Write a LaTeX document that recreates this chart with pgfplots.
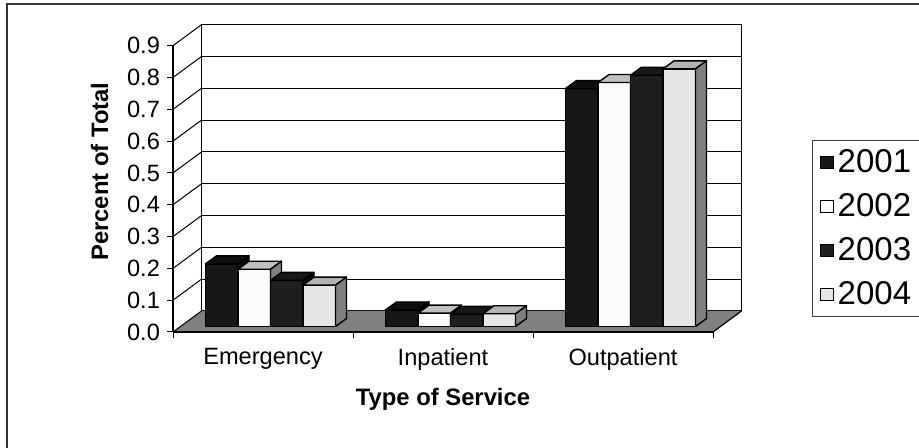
\documentclass[border=0pt]{standalone}
\usepackage{fontspec}
\setmainfont{Liberation Sans}
\usepackage{pgfplots}
\usepackage{pgfplotstable}
\pgfplotsset{compat=1.18}

\definecolor{f2001}{HTML}{171717}
\definecolor{t2001}{HTML}{0E0E0E}
\definecolor{s2001}{HTML}{080808}
\definecolor{f2002}{HTML}{FBFBFB}
\definecolor{t2002}{HTML}{C0C0C0}
\definecolor{s2002}{HTML}{808080}
\definecolor{f2003}{HTML}{1E1E1E}
\definecolor{t2003}{HTML}{171717}
\definecolor{s2003}{HTML}{0A0A0A}
\definecolor{f2004}{HTML}{E6E6E6}
\definecolor{t2004}{HTML}{B3B3B3}
\definecolor{s2004}{HTML}{7F7F7F}
\definecolor{floorc}{HTML}{808080}

\pgfplotstableread{
x y2001 y2002 y2003 y2004
0 0.197 0.180 0.145 0.130
1 0.052 0.042 0.038 0.040
2 0.748 0.767 0.790 0.810
}\data

% 3D bar (front, top and side faces), drawn as a mark at the bar top
\newcommand\declbox[5]{%
  \pgfdeclareplotmark{#1}{%
    \pgfmathsetmacro\hh{\rawyv*159.06}%
    \pgfmathsetmacro\lx{#2-8.125}%
    \pgfmathsetmacro\rx{#2+8.125}%
    \pgfmathsetmacro\lxd{#2-8.125+5.5}%
    \pgfmathsetmacro\rxd{#2+8.125+5.5}%
    \pgfmathsetmacro\hhd{-\hh+4}%
    \pgfmathsetmacro\hhm{-\hh}%
    \pgfsetlinewidth{0.7pt}%
    \pgfsetstrokecolor{black}%
    \pgfsetroundjoin
    \pgfsetfillcolor{#3}%
    \pgfpathmoveto{\pgfqpoint{\lx pt}{0pt}}%
    \pgfpathlineto{\pgfqpoint{\rx pt}{0pt}}%
    \pgfpathlineto{\pgfqpoint{\rx pt}{\hhm pt}}%
    \pgfpathlineto{\pgfqpoint{\lx pt}{\hhm pt}}%
    \pgfpathclose
    \pgfusepathqfillstroke
    \pgfsetfillcolor{#4}%
    \pgfpathmoveto{\pgfqpoint{\lx pt}{0pt}}%
    \pgfpathlineto{\pgfqpoint{\rx pt}{0pt}}%
    \pgfpathlineto{\pgfqpoint{\rxd pt}{4pt}}%
    \pgfpathlineto{\pgfqpoint{\lxd pt}{4pt}}%
    \pgfpathclose
    \pgfusepathqfillstroke
    \pgfsetfillcolor{#5}%
    \pgfpathmoveto{\pgfqpoint{\rx pt}{0pt}}%
    \pgfpathlineto{\pgfqpoint{\rx pt}{\hhm pt}}%
    \pgfpathlineto{\pgfqpoint{\rxd pt}{\hhd pt}}%
    \pgfpathlineto{\pgfqpoint{\rxd pt}{4pt}}%
    \pgfpathclose
    \pgfusepathqfillstroke
  }}
\declbox{box2001}{-24.375}{f2001}{t2001}{s2001}
\declbox{box2002}{-8.125}{f2002}{t2002}{s2002}
\declbox{box2003}{8.125}{f2003}{t2003}{s2003}
\declbox{box2004}{24.375}{f2004}{t2004}{s2004}

\begin{document}
\begin{tikzpicture}
\useasboundingbox (0,0) rectangle (459.5pt,224pt);
\clip (0,0) rectangle (459.5pt,224pt);
\fill[white] (0,0) rectangle (459.5pt,224pt);
% outer frame
\draw[black!80, line width=0.6pt] (3.5pt,-10pt) rectangle (480pt,222pt);

% back wall
\begin{axis}[
  at={(100.75pt,68.5pt)}, anchor=south west,
  scale only axis, width=270pt, height=143.15pt,
  xmin=-0.5, xmax=2.5, ymin=0, ymax=0.9,
  xtick=\empty, ytick={0,0.1,0.2,0.3,0.4,0.5,0.6,0.7,0.8,0.9},
  yticklabels={}, major tick length=0pt,
  ymajorgrids, grid style={black, line width=0.5pt},
  axis line style={black, line width=0.5pt},
]
\end{axis}

% floor and left wall lines
\fill[floorc] (86.5pt,58pt) -- (356.5pt,58pt) -- (370.75pt,68.5pt) -- (100.75pt,68.5pt) -- cycle;
\draw[black, line width=0.6pt] (86.5pt,58pt) -- (356.5pt,58pt) -- (370.75pt,68.5pt);
\foreach \k in {0,...,9}{
  \draw[black, line width=0.5pt] (86.5pt,{58pt+\k*15.906pt}) -- (100.75pt,{68.5pt+\k*15.906pt});
}

% front axis: ticks, labels
\begin{axis}[
  at={(86.5pt,58pt)}, anchor=south west,
  scale only axis, width=270pt, height=143.15pt,
  xmin=-0.5, xmax=2.5, ymin=0, ymax=0.9,
  axis x line*=bottom, axis y line*=left,
  axis line style={black, line width=0.6pt},
  tick align=outside, major tick length=3pt,
  tick style={black, line width=0.5pt},
  ytick={0,0.1,0.2,0.3,0.4,0.5,0.6,0.7,0.8,0.9},
  yticklabel={\pgfmathprintnumber[fixed,fixed zerofill,precision=1]{\tick}},
  /pgf/number format/assume math mode=true,
  xtick={-0.5,0.5,1.5,2.5}, xticklabels={},
  extra x ticks={0,1,2},
  extra x tick labels={Emergency,Inpatient,Outpatient},
  extra x tick style={major tick length=0pt, xticklabel style={yshift=-4.5pt}},
  ticklabel style={font=\fontsize{11.8}{13}\selectfont},
  ylabel={Percent of Total},
  ylabel style={at={(axis description cs:-0.1361,0.56)}, anchor=center, font=\fontsize{11.9}{13}\selectfont\bfseries},
  xlabel={Type of Service},
  xlabel style={at={(axis description cs:0.5,-0.234)}, anchor=center, font=\fontsize{11.9}{13}\selectfont\bfseries},
]
\end{axis}

% bars
\begin{axis}[
  at={(90.25pt,60.75pt)}, anchor=south west,
  scale only axis, width=270pt, height=143.15pt,
  xmin=-0.5, xmax=2.5, ymin=0, ymax=0.9,
  hide axis, clip=false,
  legend cell align=left,
  legend style={at={(1.1689,0.6507)}, anchor=north west,
    draw=black!75, line width=0.6pt, fill=white,
    font=\fontsize{16.5}{19}\selectfont,
    inner xsep=4pt, inner ysep=2.5pt, row sep=5.4pt,
    nodes={inner sep=1.8pt}},
  legend image code/.code={\draw[#1, line width=0.5pt] (0pt,-3.2pt) rectangle (6.4pt,3.2pt);},
]
\addplot[ybar, bar width=16.25pt, bar shift=-24.375pt, fill=f2001, draw=black, line width=0.7pt]
  table[x=x,y=y2001]{\data};
\addlegendentry{2001\hspace*{14pt}}
\addplot[ybar, bar width=16.25pt, bar shift=-8.125pt, fill=f2002, draw=black, line width=0.7pt]
  table[x=x,y=y2002]{\data};
\addlegendentry{2002\hspace*{14pt}}
\addplot[ybar, bar width=16.25pt, bar shift=8.125pt, fill=f2003, draw=black, line width=0.7pt]
  table[x=x,y=y2003]{\data};
\addlegendentry{2003\hspace*{14pt}}
\addplot[ybar, bar width=16.25pt, bar shift=24.375pt, fill=f2004, draw=black, line width=0.7pt]
  table[x=x,y=y2004]{\data};
\addlegendentry{2004\hspace*{14pt}}
\addplot[forget plot, only marks, mark=box2001,
  visualization depends on={\thisrow{y2001} \as \rawyv}]
  table[x=x,y=y2001]{\data};
\addplot[forget plot, only marks, mark=box2002,
  visualization depends on={\thisrow{y2002} \as \rawyv}]
  table[x=x,y=y2002]{\data};
\addplot[forget plot, only marks, mark=box2003,
  visualization depends on={\thisrow{y2003} \as \rawyv}]
  table[x=x,y=y2003]{\data};
\addplot[forget plot, only marks, mark=box2004,
  visualization depends on={\thisrow{y2004} \as \rawyv}]
  table[x=x,y=y2004]{\data};
\end{axis}
\end{tikzpicture}
\end{document}
